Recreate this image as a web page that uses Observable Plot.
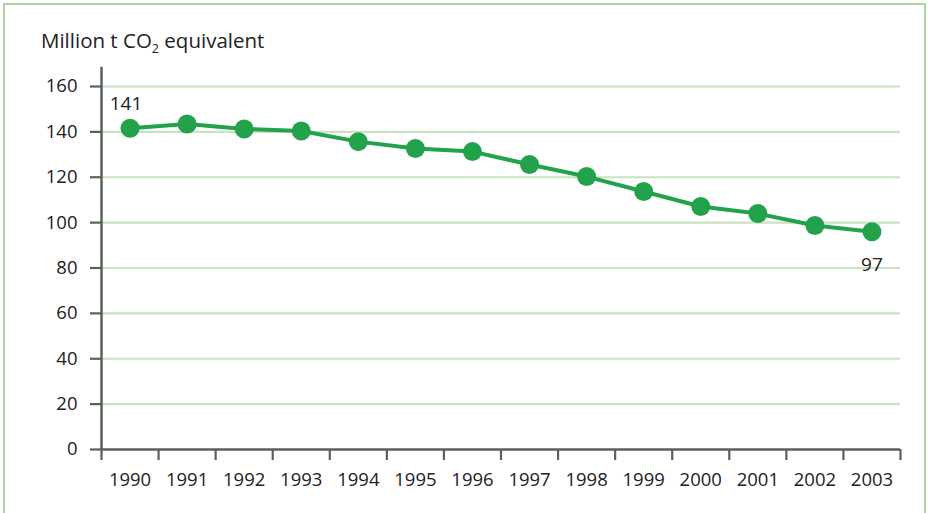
<!DOCTYPE html>
<html><head><meta charset="utf-8">
<script src="https://cdn.jsdelivr.net/npm/d3@7"></script>
<script src="https://cdn.jsdelivr.net/npm/@observablehq/plot@0.6"></script>
<style>
body{margin:0;background:#fff;font-family:"Open Sans",sans-serif;}
#wrap{position:relative;width:928px;height:513px;overflow:hidden;}
#border{position:absolute;left:3px;top:3px;width:919px;height:530px;border:2px solid #a9d59c;}
#title{position:absolute;left:41px;top:30px;font-size:20.5px;line-height:20px;color:#222;white-space:nowrap;}
#title span{font-size:12.5px;position:relative;top:5px;}
#chart{position:absolute;left:0;top:0;}
</style></head>
<body>
<div id="wrap"><div id="border"></div><div id="chart"></div>
<div id="title">Million t CO<span>2</span> equivalent</div></div>
<script>
const years = [1990,1991,1992,1993,1994,1995,1996,1997,1998,1999,2000,2001,2002,2003];
const emissions = [141.6,143.5,141.3,140.4,135.7,132.7,131.3,125.6,120.3,113.7,107.1,104.0,98.7,96.0];
const yTicks = [0,20,40,60,80,100,120,140,160];
const labelYears = [1990, 2003];
const labelTexts = ["141", "97"];

const data = years.map((y,i)=>({year:y, value:emissions[i]}));
const edges = years.map(y=>y-0.5).concat([years[years.length-1]+0.5]);
const green = "#22a24b", grid = "#c9e3c1", axis = "#5a5f5c";
const lab = labelYears.map((y,i)=>({year:y, value:emissions[years.indexOf(y)], t:labelTexts[i]}));

const chart = Plot.plot({
  width: 928, height: 513,
  marginLeft: 101, marginRight: 28, marginTop: 86, marginBottom: 64,
  style: {fontFamily: "'Open Sans', sans-serif", fontSize: "18.5px", color: "#222", background: "transparent"},
  x: {domain: [1989.5, 2003.5], axis: null},
  y: {domain: [0,160], axis: null},
  marks: [
    Plot.ruleY(yTicks.filter(d=>d>0), {stroke: grid, strokeWidth: 2.2}),
    Plot.axisY({ticks: yTicks, label: null, tickSize: 11, tickPadding: 13, stroke: axis, strokeWidth: 2.2, fill: "#222", fontSize: 18.5}),
    Plot.ruleX([1989.5], {y1: 0, y2: 168.5, stroke: axis, strokeWidth: 2.5}),
    Plot.ruleY([0], {stroke: axis, strokeWidth: 2.5}),
    Plot.axisX({ticks: edges, label: null, tickSize: 11, tickFormat: () => "", stroke: axis, strokeWidth: 2.2}),
    Plot.axisX({ticks: years, label: null, tickSize: 0, tickPadding: 23, tickFormat: d => String(d), fill: "#222", fontSize: 18.5}),
    Plot.line(data, {x: "year", y: "value", stroke: green, strokeWidth: 4}),
    Plot.dot(data, {x: "year", y: "value", r: 9.5, fill: green, stroke: "none"}),
    Plot.text(lab.slice(0,1), {x: "year", y: "value", text: "t", dx: -4, dy: -24, fill: "#222", fontSize: 19}),
    Plot.text(lab.slice(1), {x: "year", y: "value", text: "t", dy: 33, fill: "#222", fontSize: 19})
  ]
});
document.getElementById("chart").appendChild(chart);
</script>
</body></html>
